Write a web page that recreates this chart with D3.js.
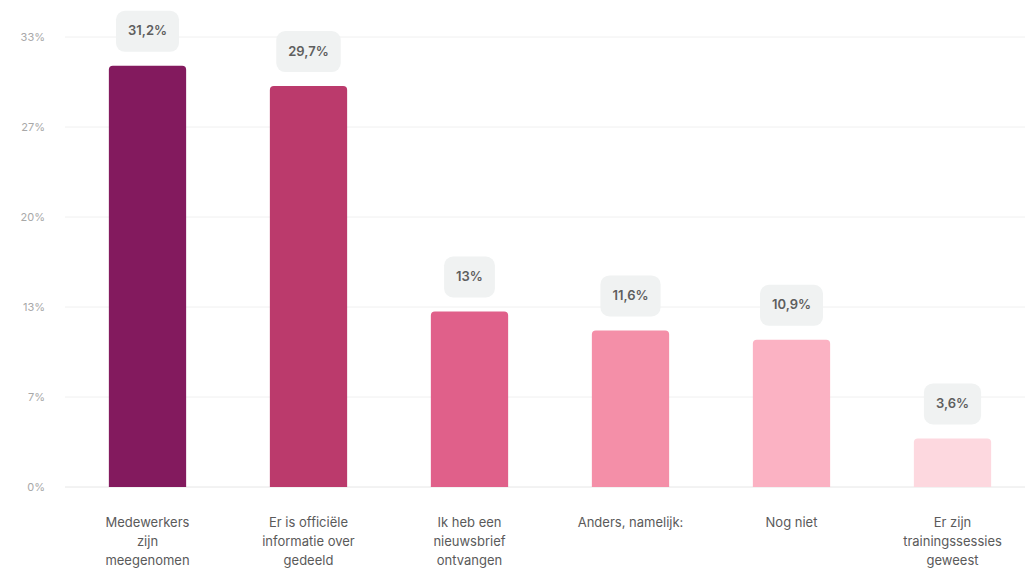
<!DOCTYPE html>
<html><head><meta charset="utf-8">
<script src="https://cdn.jsdelivr.net/npm/d3@7"></script>
<style>body{margin:0;background:#fff;}svg{display:block;font-family:Inter,"Noto Sans",sans-serif;}</style>
</head><body><svg id="c" width="1025" height="578"></svg>
<script>
const categories = [
  ["Medewerkers","zijn","meegenomen"],
  ["Er is officiële","informatie over","gedeeld"],
  ["Ik heb een","nieuwsbrief","ontvangen"],
  ["Anders, namelijk:"],
  ["Nog niet"],
  ["Er zijn","trainingssessies","geweest"]
];
const values = [31.2, 29.7, 13, 11.6, 10.9, 3.6];
const valueLabels = ["31,2%","29,7%","13%","11,6%","10,9%","3,6%"];
const colors = ["#831a5e","#bb3a6c","#e0608a","#f48fa8","#fbb2c3","#fdd8df"];
const tickValues = [0, 100/15, 200/15, 20, 400/15, 100/3];
const tickLabels = ["0%","7%","13%","20%","27%","33%"];

const svg = d3.select("#c");
const x = d3.scaleBand().domain(d3.range(values.length)).range([67, 1033]).paddingInner(0.52).paddingOuter(0.26);
const y = d3.scaleLinear().domain([0, 100/3]).range([487, 37]);

// grid
svg.append("g").selectAll("line").data(tickValues).join("line")
  .attr("x1", 65).attr("x2", 1025)
  .attr("y1", d => y(d)).attr("y2", d => y(d))
  .attr("stroke", (d,i) => i === 0 ? "#e6e6e6" : "#f0f0f0").attr("stroke-width", 1);

// y labels
svg.append("g").selectAll("text").data(tickValues).join("text")
  .attr("x", 45).attr("y", d => y(d)).attr("dy", "0.35em")
  .attr("text-anchor", "end").attr("fill", "#a8a8a8").attr("font-size", 11)
  .text((d,i) => tickLabels[i]);

// bars with rounded top corners
const r = 4;
svg.append("g").selectAll("path").data(values).join("path")
  .attr("fill", (d,i) => colors[i])
  .attr("d", (d,i) => {
    const x0 = x(i), w = x.bandwidth(), y0 = y(d), y1 = y(0);
    return `M${x0},${y1}V${y0+r}Q${x0},${y0} ${x0+r},${y0}H${x0+w-r}Q${x0+w},${y0} ${x0+w},${y0+r}V${y1}Z`;
  });

// value pills
const pills = svg.append("g").selectAll("g").data(values).join("g")
  .attr("transform", (d,i) => `translate(${x(i)+x.bandwidth()/2},${y(d)-35})`);
pills.append("text").attr("class","vl")
  .attr("text-anchor","middle").attr("dy","0.35em")
  .attr("font-size", 13).attr("font-weight", 600).attr("fill", "#5e5e5e")
  .text((d,i) => valueLabels[i]);
pills.each(function(){
  const g = d3.select(this);
  const bb = g.select("text").node().getBBox();
  g.insert("rect","text")
    .attr("x", -bb.width/2 - 12).attr("y", -20)
    .attr("width", bb.width + 24).attr("height", 41)
    .attr("rx", 9).attr("fill", "#f0f2f2");
});

// x labels
const xl = svg.append("g").selectAll("text").data(categories).join("text")
  .attr("x", (d,i) => x(i)+x.bandwidth()/2).attr("y", 527)
  .attr("text-anchor","middle").attr("font-size", 13).attr("fill", "#5a5a5a");
xl.selectAll("tspan").data(d => d).join("tspan")
  .attr("x", function(){ return this.parentNode.getAttribute("x"); })
  .attr("dy", (d,i) => i === 0 ? 0 : 19)
  .text(d => d);
</script></body></html>
